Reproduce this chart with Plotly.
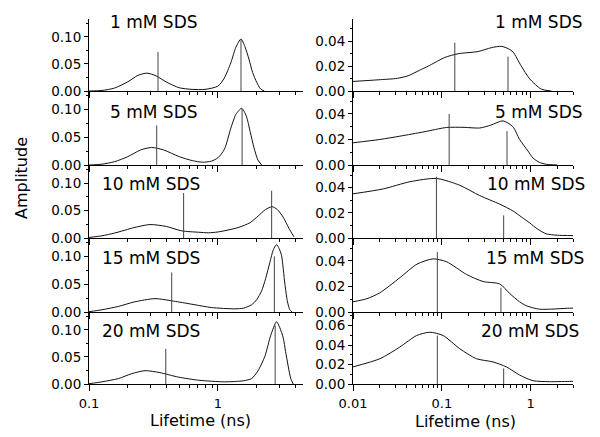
import plotly.graph_objects as go

FONT = "DejaVu Sans, Liberation Sans, Arial, sans-serif"
W, H = 600, 437
OFF = 8  # the page body margin shifts the figure by this many pixels

# ---------------- labels ----------------
panel_labels = ["1 mM SDS", "5 mM SDS", "10 mM SDS", "15 mM SDS", "20 mM SDS"]
x_title = "Lifetime (ns)"
y_title = "Amplitude"
left_xtick_vals = [0.1, 1]
left_xtick_text = ["0.1", "1"]
right_xtick_vals = [0.01, 0.1, 1]
right_xtick_text = ["0.01", "0.1", "1"]

# ---------------- left column (lifetime distributions) ----------------
L1_x = [0.1, 0.126, 0.158, 0.2, 0.24, 0.282, 0.331, 0.398, 0.501, 0.631, 0.794, 1.0, 1.122, 1.259, 1.38, 1.51, 1.62, 1.74, 1.86, 2.0, 2.14, 2.29]
L1_y = [0.000, 0.001, 0.0055, 0.017, 0.029, 0.033, 0.028, 0.0166, 0.006, 0.003, 0.003, 0.009, 0.024, 0.052, 0.081, 0.096, 0.082, 0.059, 0.034, 0.016, 0.004, 0.000]

L2_x = [0.1, 0.126, 0.158, 0.2, 0.251, 0.306, 0.38, 0.501, 0.631, 0.759, 0.891, 1.0, 1.122, 1.259, 1.38, 1.528, 1.66, 1.778, 1.905, 2.042, 2.188]
L2_y = [0.000, 0.0015, 0.006, 0.015, 0.027, 0.0315, 0.027, 0.015, 0.008, 0.005, 0.007, 0.013, 0.028, 0.066, 0.091, 0.102, 0.088, 0.060, 0.031, 0.009, 0.000]

L3_x = [0.1, 0.126, 0.158, 0.179, 0.224, 0.297, 0.398, 0.524, 0.708, 0.841, 1.0, 1.435, 1.778, 2.051, 2.344, 2.63, 2.884, 3.206, 3.548, 3.89]
L3_y = [0.001, 0.004, 0.009, 0.0125, 0.019, 0.0245, 0.021, 0.013, 0.0105, 0.0095, 0.011, 0.019, 0.028, 0.040, 0.052, 0.057, 0.052, 0.038, 0.018, 0.002]

L4_x = [0.1, 0.126, 0.169, 0.224, 0.325, 0.468, 0.664, 0.891, 1.355, 1.585, 1.824, 1.995, 2.183, 2.344, 2.529, 2.692, 2.851, 2.985, 3.119, 3.304, 3.467, 3.614, 3.758]
L4_y = [0.0005, 0.004, 0.010, 0.018, 0.024, 0.019, 0.013, 0.008, 0.0057, 0.007, 0.013, 0.022, 0.038, 0.060, 0.089, 0.112, 0.121, 0.114, 0.101, 0.051, 0.018, 0.004, 0.000]

L5_x = [0.1, 0.126, 0.169, 0.214, 0.272, 0.355, 0.492, 0.708, 1.132, 1.585, 1.824, 2.042, 2.312, 2.57, 2.851, 3.02, 3.206, 3.35, 3.508, 3.673, 3.837]
L5_y = [0.0005, 0.004, 0.010, 0.019, 0.0246, 0.021, 0.0128, 0.007, 0.004, 0.006, 0.010, 0.024, 0.051, 0.090, 0.115, 0.104, 0.086, 0.060, 0.033, 0.010, 0.000]

# discrete-component sticks (lifetime, amplitude)
L1_stick_x = [0.343, 1.51]
L1_stick_y = [0.072, 0.096]
L2_stick_x = [0.335, 1.54]
L2_stick_y = [0.071, 0.101]
L3_stick_x = [0.542, 2.61]
L3_stick_y = [0.082, 0.086]
L4_stick_x = [0.438, 2.74]
L4_stick_y = [0.071, 0.100]
L5_stick_x = [0.394, 2.78]
L5_stick_y = [0.065, 0.108]

# ---------------- right column ----------------
R1_x = [0.01, 0.0192, 0.0316, 0.0418, 0.0562, 0.0702, 0.108, 0.152, 0.256, 0.361, 0.469, 0.562, 0.632, 0.785, 0.975, 1.318, 1.71]
R1_y = [0.0077, 0.009, 0.0102, 0.0123, 0.0167, 0.020, 0.027, 0.030, 0.0318, 0.0349, 0.036, 0.034, 0.0315, 0.020, 0.0098, 0.0015, 0.0]

R2_x = [0.01, 0.02, 0.0337, 0.0631, 0.113, 0.178, 0.267, 0.355, 0.489, 0.631, 0.752, 0.933, 1.062, 1.259, 1.514, 1.995]
R2_y = [0.0174, 0.020, 0.0226, 0.026, 0.0294, 0.0295, 0.029, 0.0312, 0.0346, 0.030, 0.020, 0.011, 0.0055, 0.002, 0.0005, 0.0]

R3_x = [0.01, 0.0219, 0.0437, 0.0871, 0.159, 0.267, 0.449, 0.632, 0.794, 0.975, 1.2, 1.5, 1.995, 3.0]
R3_y = [0.0351, 0.039, 0.0447, 0.0473, 0.0419, 0.0337, 0.0269, 0.0215, 0.0165, 0.012, 0.007, 0.0033, 0.0022, 0.0019]

R4_x = [0.01, 0.0143, 0.02, 0.0339, 0.0525, 0.0794, 0.113, 0.19, 0.291, 0.449, 0.581, 0.752, 0.895, 1.259, 2.742, 3.0]
R4_y = [0.008, 0.0104, 0.015, 0.027, 0.0375, 0.0416, 0.0394, 0.0294, 0.0239, 0.022, 0.0145, 0.008, 0.0049, 0.0022, 0.003, 0.003]

R5_x = [0.01, 0.0201, 0.0337, 0.052, 0.0733, 0.1035, 0.159, 0.245, 0.377, 0.533, 0.752, 1.062, 1.633, 2.864, 3.0]
R5_y = [0.0176, 0.026, 0.038, 0.0498, 0.0532, 0.0498, 0.0363, 0.026, 0.0227, 0.0176, 0.0092, 0.0034, 0.0024, 0.0027, 0.0027]

R1_stick_x = [0.14, 0.556]
R1_stick_y = [0.039, 0.0277]
R2_stick_x = [0.121, 0.542]
R2_stick_y = [0.040, 0.0266]
R3_stick_x = [0.087, 0.497]
R3_stick_y = [0.0487, 0.018]
R4_stick_x = [0.089, 0.463]
R4_stick_y = [0.047, 0.019]
R5_stick_x = [0.089, 0.497]
R5_stick_y = [0.0498, 0.016]

left_curves = [(L1_x, L1_y), (L2_x, L2_y), (L3_x, L3_y), (L4_x, L4_y), (L5_x, L5_y)]
right_curves = [(R1_x, R1_y), (R2_x, R2_y), (R3_x, R3_y), (R4_x, R4_y), (R5_x, R5_y)]
left_sticks = [(L1_stick_x, L1_stick_y), (L2_stick_x, L2_stick_y), (L3_stick_x, L3_stick_y),
               (L4_stick_x, L4_stick_y), (L5_stick_x, L5_stick_y)]
right_sticks = [(R1_stick_x, R1_stick_y), (R2_stick_x, R2_stick_y), (R3_stick_x, R3_stick_y),
                (R4_stick_x, R4_stick_y), (R5_stick_x, R5_stick_y)]

# ---------------- layout geometry (window pixels) ----------------
rows_px = [(19, 91), (91, 165), (165, 238), (238, 312), (312, 384)]
left_px = (89, 303)
right_px = (353, 573)


def px_x(p):
    return (p - OFF) / W


def px_y(p):
    return 1 - (p - OFF) / H


fig = go.Figure()
layout = dict(
    width=W, height=H,
    margin=dict(l=0, r=0, t=0, b=0, autoexpand=False),
    paper_bgcolor="white", plot_bgcolor="white",
    showlegend=False,
    font=dict(family=FONT, color="black", size=14),
)

left_minor = [0.2, 0.3, 0.4, 0.5, 0.6, 0.7, 0.8, 0.9, 2, 3, 4]
right_minor = [0.02, 0.03, 0.04, 0.05, 0.06, 0.07, 0.08, 0.09,
               0.2, 0.3, 0.4, 0.5, 0.6, 0.7, 0.8, 0.9, 2, 3]

for i in range(5):
    top, bot = rows_px[i]
    for side in (0, 1):
        k = i * 2 + side + 1
        xname = "x" if k == 1 else f"x{k}"
        yname = "y" if k == 1 else f"y{k}"
        xkey = "xaxis" if k == 1 else f"xaxis{k}"
        ykey = "yaxis" if k == 1 else f"yaxis{k}"
        cx, cy = (left_curves if side == 0 else right_curves)[i]
        sx, sy = (left_sticks if side == 0 else right_sticks)[i]

        fig.add_trace(go.Scatter(
            x=cx, y=cy, xaxis=xname, yaxis=yname, mode="lines",
            line=dict(color="#111111", width=1, shape="spline", smoothing=0.7),
            hoverinfo="skip"))
        xs, ys = [], []
        for a, b in zip(sx, sy):
            xs += [a, a, None]
            ys += [0, b, None]
        fig.add_trace(go.Scatter(
            x=xs, y=ys, xaxis=xname, yaxis=yname, mode="lines",
            line=dict(color="#444444", width=1), hoverinfo="skip"))

        if side == 0:
            dom = [px_x(left_px[0]), px_x(left_px[1])]
            xr = [-1, 0.66]
            tv, tt, mv = left_xtick_vals, left_xtick_text, left_minor
            yr = [0, 0.133]
            ytv = [0, 0.05, 0.10]
            ytt = ["0.00", "0.05", "0.10"]
            ymv = [0.025, 0.075, 0.125]
        else:
            dom = [px_x(right_px[0]), px_x(right_px[1])]
            xr = [-2, 0.477]
            tv, tt, mv = right_xtick_vals, right_xtick_text, right_minor
            if i < 4:
                yr = [0, 0.058]
                ytv = [0, 0.02, 0.04]
                ytt = ["0.00", "0.02", "0.04"]
                ymv = [0.01, 0.03, 0.05]
            else:
                yr = [0, 0.074]
                ytv = [0, 0.02, 0.04, 0.06]
                ytt = ["0.00", "0.02", "0.04", "0.06"]
                ymv = [0.01, 0.03, 0.05, 0.07]

        layout[xkey] = dict(
            type="log", domain=dom, range=xr, anchor=yname,
            showline=True, linecolor="black", linewidth=1,
            ticks="outside", ticklen=6, tickwidth=1, tickcolor="black",
            tickmode="array", tickvals=tv, ticktext=tt,
            showticklabels=(i == 4), showgrid=False, zeroline=False,
            tickfont=dict(family=FONT, size=13, color="black"),
            ticklabelstandoff=1, automargin=False,
            minor=dict(tickmode="array", tickvals=mv, ticks="outside", ticklen=3,
                       tickwidth=1, tickcolor="black", showgrid=False),
            fixedrange=True,
        )
        layout[ykey] = dict(
            domain=[px_y(bot), px_y(top)], range=yr, anchor=xname,
            showline=True, linecolor="black", linewidth=1,
            ticks="outside", ticklen=4, tickwidth=1, tickcolor="black",
            tickmode="array", tickvals=ytv, ticktext=ytt,
            showgrid=False, zeroline=False, automargin=False,
            tickfont=dict(family=FONT, size=13.5, color="black"),
            minor=dict(tickmode="array", tickvals=ymv, ticks="outside", ticklen=2,
                       tickwidth=1, tickcolor="black", showgrid=False),
            fixedrange=True,
        )

annotations = []
left_label_x = [108, 108, 100, 100, 100]
right_label_x = [585, 585, 587, 586, 581]
label_y = [22, 112, 184, 258, 331]
for i in range(5):
    annotations.append(dict(
        text=panel_labels[i], xref="paper", yref="paper",
        x=px_x(left_label_x[i]), y=px_y(label_y[i]), xanchor="left", yanchor="middle",
        showarrow=False, font=dict(family=FONT, size=17, color="black")))
    annotations.append(dict(
        text=panel_labels[i], xref="paper", yref="paper",
        x=px_x(right_label_x[i]), y=px_y(label_y[i]), xanchor="right", yanchor="middle",
        showarrow=False, font=dict(family=FONT, size=17, color="black")))

annotations.append(dict(text=y_title, xref="paper", yref="paper", x=px_x(21), y=px_y(178),
                        xanchor="center", yanchor="middle", textangle=-90, showarrow=False,
                        font=dict(family=FONT, size=16, color="black")))
annotations.append(dict(text=x_title, xref="paper", yref="paper", x=px_x(200), y=px_y(420),
                        xanchor="center", yanchor="middle", showarrow=False,
                        font=dict(family=FONT, size=16, color="black")))
annotations.append(dict(text=x_title, xref="paper", yref="paper", x=px_x(465), y=px_y(421),
                        xanchor="center", yanchor="middle", showarrow=False,
                        font=dict(family=FONT, size=16, color="black")))
layout["annotations"] = annotations

fig.update_layout(**layout)
fig.write_html("out.html")
